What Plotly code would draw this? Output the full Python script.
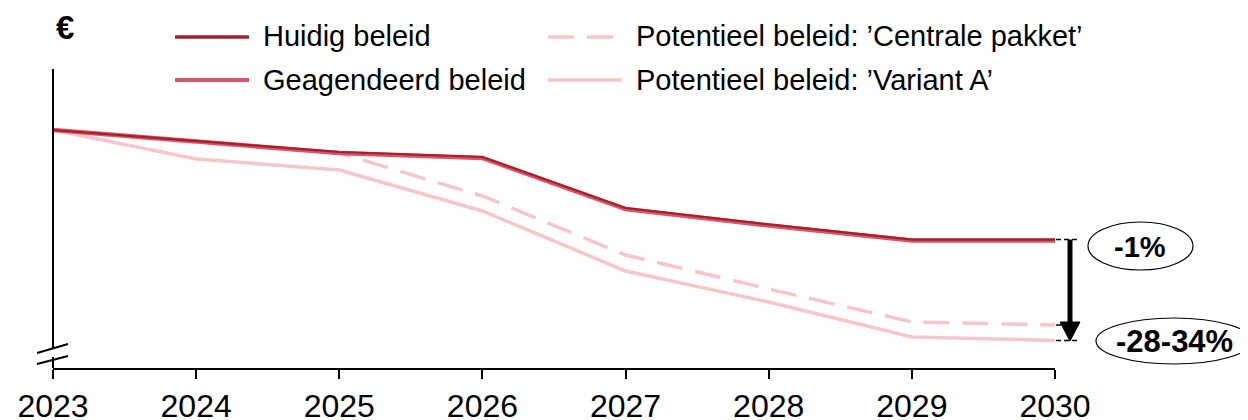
import plotly.graph_objects as go

# ---- data (index, 2023 = 100) ----
years = [2023, 2024, 2025, 2026, 2027, 2028, 2029, 2030]
huidig = [100, 97.25, 94.5, 93.25, 80.5, 76.4, 72.6, 72.6]
geagendeerd = [100, 97.0, 94.25, 93.0, 80.25, 76.1, 72.4, 72.4]
centrale = [100, 96.9, 94.25, 83.5, 68.75, 60.25, 52.0, 51.25]
variant_a = [100, 92.75, 90.0, 79.75, 64.75, 57.0, 48.25, 47.4]

names = ["Huidig beleid", "Geagendeerd beleid",
         "Potentieel beleid: ’Centrale pakket’", "Potentieel beleid: ’Variant A’"]
label_small = "-1%"
label_large = "-28-34%"

C_HUIDIG = "#A51F28"
C_GEAG = "#D9536A"
C_PINK = "#F5C7C8"
FONT = "Liberation Sans, Arial, sans-serif"
DASH = "26px,13px"

# page body has an 8px margin -> figure is 8px smaller, coordinates given in page pixels
OFF = 8
W, H = 1248 - OFF, 420 - OFF
PL, PR, PT, PB = 53, 1055, 60, 368          # plot area in page pixels
L, T = PL - OFF, PT - OFF
R, B = W - (PR - OFF), H - (PB - OFF)
PW, PH = PR - PL, PB - PT


def px(x):
    return (x - PL) / PW


def py(y):
    return (PB - y) / PH


fig = go.Figure()
fig.add_trace(go.Scatter(x=years, y=variant_a, mode="lines", name=names[3],
                         line=dict(color=C_PINK, width=3.5), showlegend=False))
fig.add_trace(go.Scatter(x=years, y=centrale, mode="lines", name=names[2],
                         line=dict(color=C_PINK, width=3.5, dash=DASH), showlegend=False))
fig.add_trace(go.Scatter(x=years, y=geagendeerd, mode="lines", name=names[1],
                         line=dict(color=C_GEAG, width=4.5), showlegend=False))
fig.add_trace(go.Scatter(x=years, y=huidig, mode="lines", name=names[0],
                         line=dict(color=C_HUIDIG, width=2.2), showlegend=False))

shapes = []
ann = []
black = "#000000"

# y axis with break
shapes.append(dict(type="line", xref="paper", yref="paper", x0=px(53), x1=px(53),
                   y0=py(69), y1=py(348), line=dict(color=black, width=2)))
shapes.append(dict(type="line", xref="paper", yref="paper", x0=px(53), x1=px(53),
                   y0=py(357), y1=py(368), line=dict(color=black, width=2)))
shapes.append(dict(type="line", xref="paper", yref="paper", x0=px(37), x1=px(68),
                   y0=py(353), y1=py(344), line=dict(color=black, width=2)))
shapes.append(dict(type="line", xref="paper", yref="paper", x0=px(37), x1=px(68),
                   y0=py(364), y1=py(356), line=dict(color=black, width=2)))

# manual legend
leg = [
    (175, 37, C_HUIDIG, 3.5, "solid", names[0]),
    (175, 80, C_GEAG, 4, "solid", names[1]),
    (548, 37, C_PINK, 3.5, DASH, names[2]),
    (548, 80, C_PINK, 3.5, "solid", names[3]),
]
for x0, y0, col, wdt, dash, txt in leg:
    shapes.append(dict(type="line", xref="paper", yref="paper", x0=px(x0), x1=px(x0 + 74),
                       y0=py(y0), y1=py(y0), line=dict(color=col, width=wdt, dash=dash)))
    ann.append(dict(xref="paper", yref="paper", x=px(x0 + 86), y=py(y0 - 0.5), text=txt,
                    showarrow=False, xanchor="left", yanchor="middle",
                    font=dict(size=29, color=black, family=FONT)))

# euro sign
ann.append(dict(xref="paper", yref="paper", x=px(65), y=py(28), text="<b>€</b>",
                showarrow=False, xanchor="center", yanchor="middle",
                font=dict(size=33, color=black, family=FONT)))

# right side markers: dashed ends
for yv in [huidig[-1], centrale[-1], variant_a[-1]]:
    shapes.append(dict(type="line", xref="paper", yref="y", x0=px(1056), x1=px(1079),
                       y0=yv, y1=yv, line=dict(color=black, width=1.5, dash="5px,3px")))

# arrow
shapes.append(dict(type="line", xref="paper", yref="y", x0=px(1070), x1=px(1070),
                   y0=huidig[-1], y1=centrale[-1] + 0.5, line=dict(color=black, width=5)))
shapes.append(dict(type="path", xref="paper", yref="paper",
                   path=f"M {px(1060)} {py(322)} L {px(1080)} {py(322)} L {px(1070)} {py(341)} Z",
                   fillcolor=black, line=dict(color=black, width=1)))

# ellipses with labels
shapes.append(dict(type="circle", xref="paper", yref="paper", x0=px(1088), x1=px(1193),
                   y0=py(222), y1=py(270), line=dict(color=black, width=1.2)))
ann.append(dict(xref="paper", yref="paper", x=px(1140), y=py(247), text=f"<b>{label_small}</b>",
                showarrow=False, xanchor="center", yanchor="middle",
                font=dict(size=29, color=black, family=FONT)))
shapes.append(dict(type="circle", xref="paper", yref="paper", x0=px(1096), x1=px(1252),
                   y0=py(318), y1=py(364), line=dict(color=black, width=1.2)))
ann.append(dict(xref="paper", yref="paper", x=px(1174), y=py(341), text=f"<b>{label_large}</b>",
                showarrow=False, xanchor="center", yanchor="middle",
                font=dict(size=31, color=black, family=FONT)))

fig.update_layout(
    width=W, height=H,
    margin=dict(l=L, r=R, t=T, b=B, autoexpand=False),
    paper_bgcolor="white", plot_bgcolor="white",
    showlegend=False,
    shapes=shapes, annotations=ann,
    font=dict(family=FONT, color=black),
    xaxis=dict(range=[2023, 2030], tickvals=years, ticktext=[str(y) for y in years],
               showline=True, linecolor=black, linewidth=2, ticks="outside",
               ticklen=9, tickwidth=2, tickcolor=black, showgrid=False, zeroline=False,
               automargin=False,
               tickfont=dict(size=32, color=black, family=FONT)),
    yaxis=dict(range=[40.5, 117.5], visible=False, showgrid=False, zeroline=False,
               automargin=False),
)

fig.write_html("out.html")
